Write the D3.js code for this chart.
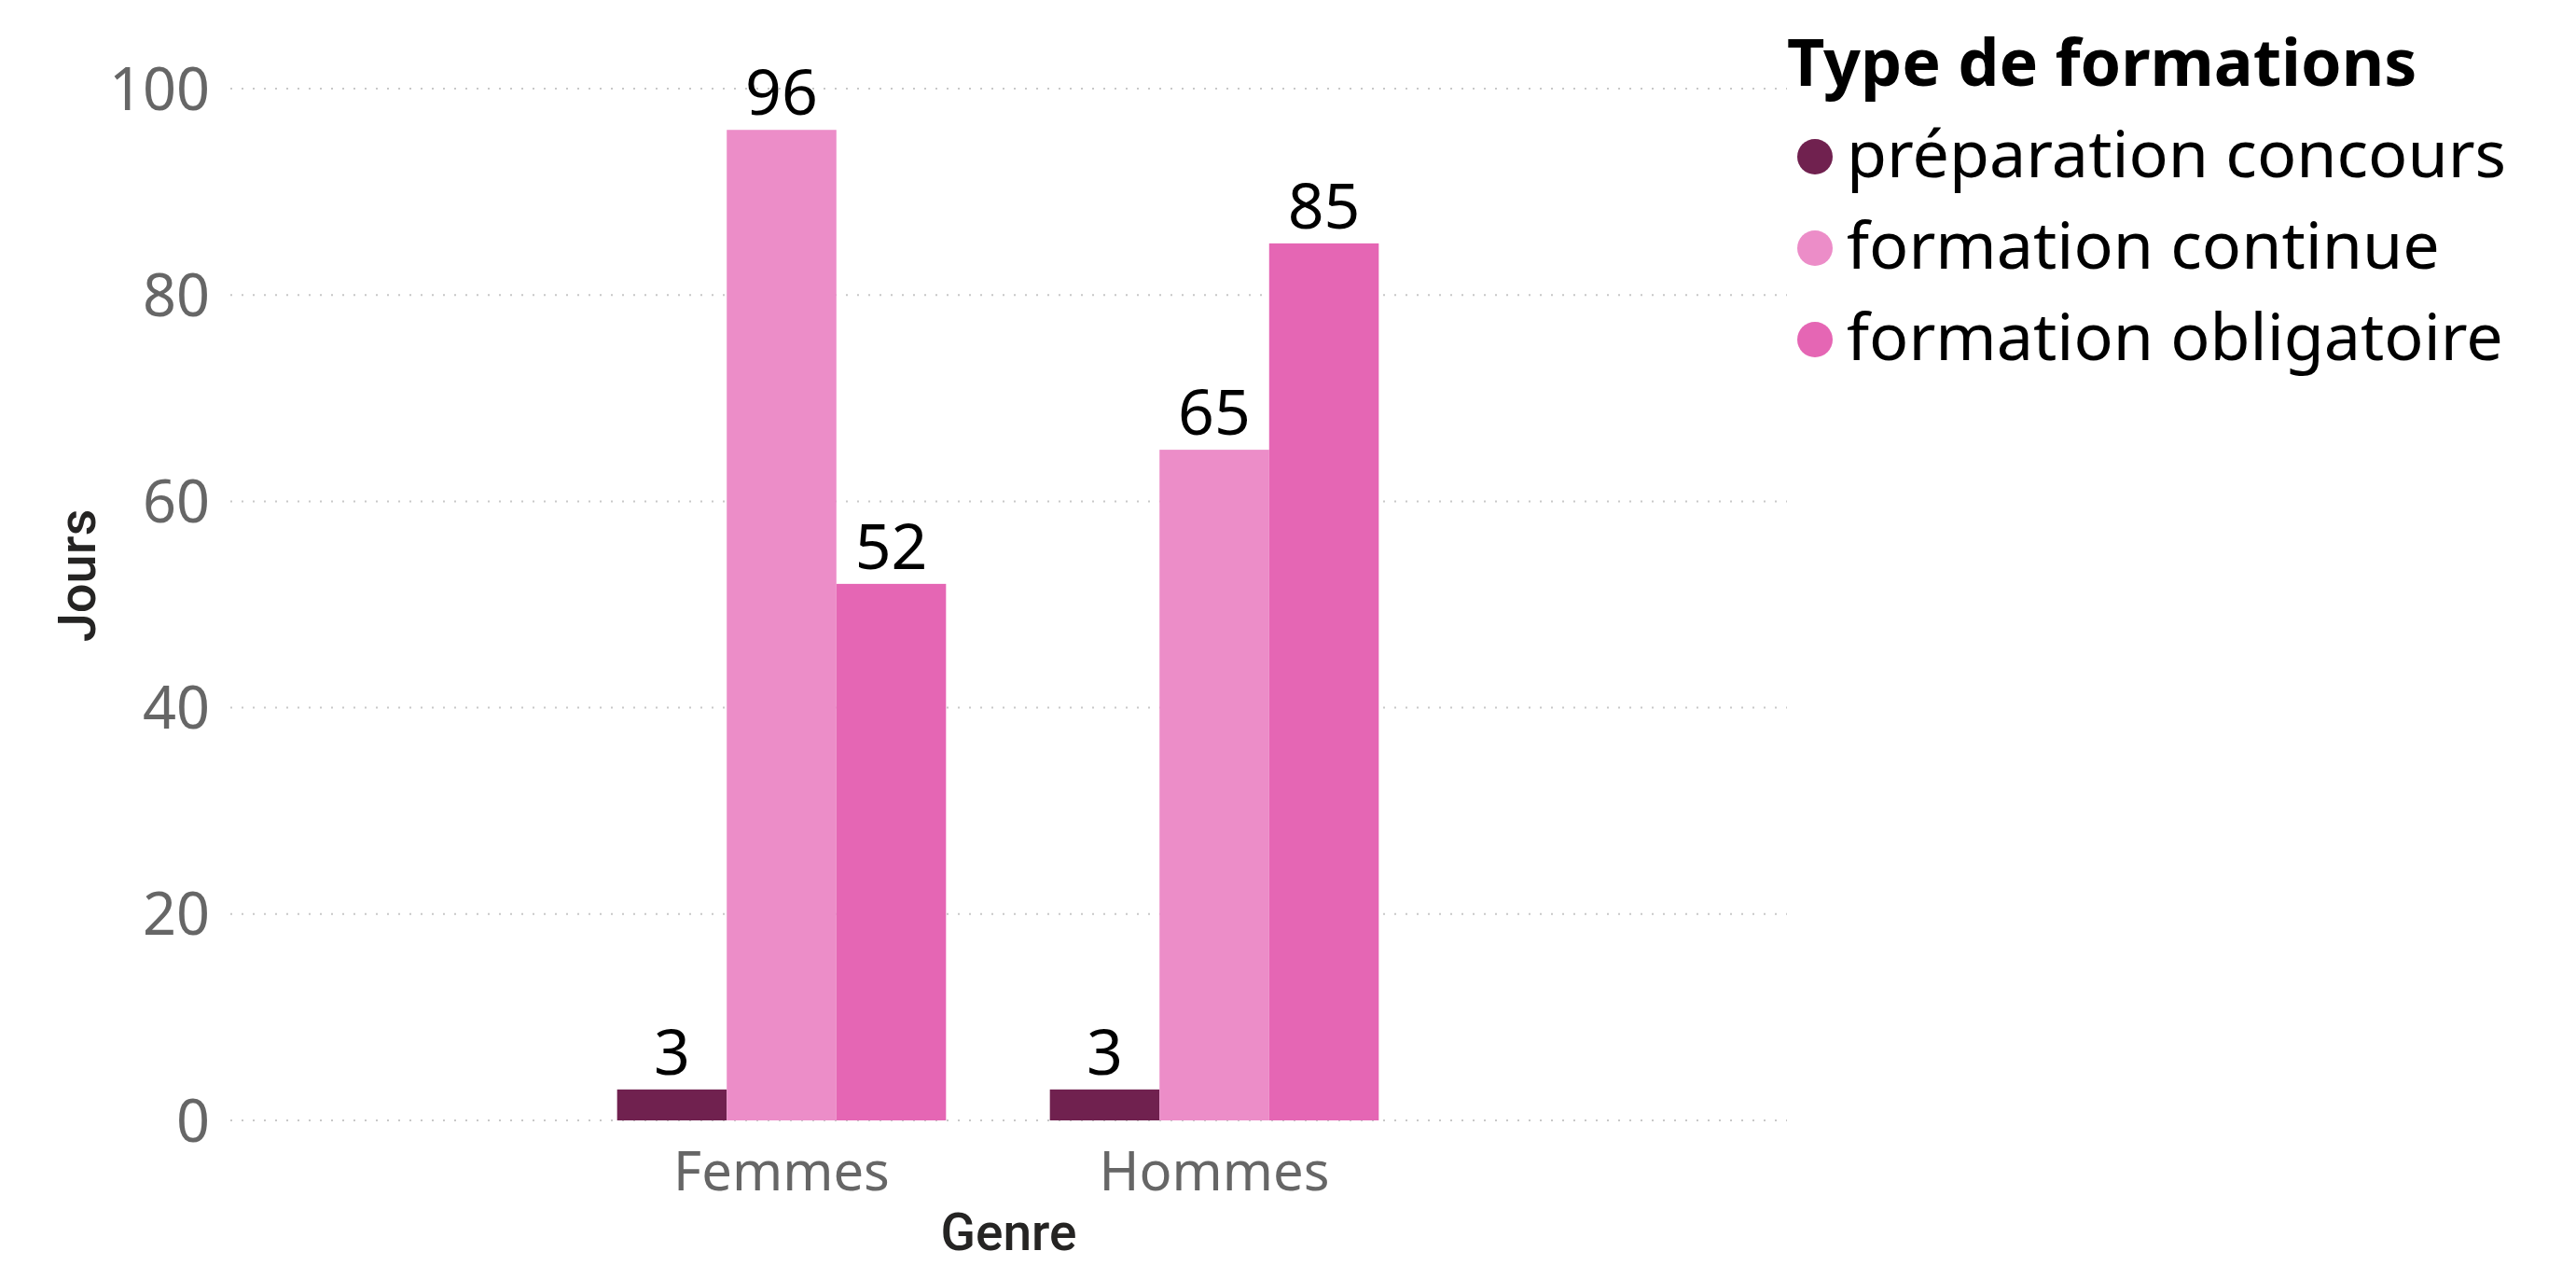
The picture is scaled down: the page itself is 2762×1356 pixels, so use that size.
<html>
  <head>
    <script src="https://cdn.jsdelivr.net/npm/d3@7"></script>
    <style>
      body { margin: 0; background: #fff; }
    </style>
  </head>
  <body>
    <script>
      const width = 2762, height = 1356;

      // data
      const genres = ["Femmes", "Hommes"];
      const types = ["préparation concours", "formation continue", "formation obligatoire"];
      const colors = ["#70214F", "#EC8DC8", "#E566B4"];
      const preparation = [3, 3];
      const continue_ = [96, 65];
      const obligatoire = [52, 85];
      const yTicks = [0, 20, 40, 60, 80, 100];

      const seriesValues = [preparation, continue_, obligatoire];
      const rows = [];
      genres.forEach((g, gi) => {
        types.forEach((t, ti) => rows.push({ genre: g, type: t, value: seriesValues[ti][gi] }));
      });

      const svg = d3.select("body").append("svg")
          .attr("width", width)
          .attr("height", height);

      const plotLeft = 247, plotRight = 1916;
      const font = "'Noto Sans', 'Open Sans', sans-serif";

      const y = d3.scaleLinear().domain([0, 100]).range([1201, 95]);

      const x0 = d3.scaleBand().domain(genres)
          .range([606, 1534])
          .paddingInner(0.24)
          .paddingOuter(0.12);
      const x1 = d3.scaleBand().domain(types).range([0, x0.bandwidth()]);
      const color = d3.scaleOrdinal().domain(types).range(colors);

      // gridlines
      svg.append("g").selectAll("line")
        .data(yTicks)
        .join("line")
          .attr("x1", plotLeft).attr("x2", plotRight)
          .attr("y1", d => y(d)).attr("y2", d => y(d))
          .attr("stroke", "#c8c8c8")
          .attr("stroke-width", 2)
          .attr("stroke-dasharray", "2,10");

      // y axis labels
      svg.append("g").selectAll("text")
        .data(yTicks)
        .join("text")
          .attr("x", 225)
          .attr("y", d => y(d))
          .attr("dy", "0.36em")
          .attr("text-anchor", "end")
          .style("font-family", font)
          .style("font-size", "63px")
          .style("fill", "#666666")
          .text(d => d);

      // bars
      svg.append("g").selectAll("rect")
        .data(rows)
        .join("rect")
          .attr("x", d => x0(d.genre) + x1(d.type))
          .attr("y", d => y(d.value))
          .attr("width", x1.bandwidth())
          .attr("height", d => y(0) - y(d.value))
          .attr("fill", d => color(d.type));

      // value labels
      svg.append("g").selectAll("text")
        .data(rows)
        .join("text")
          .attr("x", d => x0(d.genre) + x1(d.type) + x1.bandwidth() / 2)
          .attr("y", d => y(d.value) - 16)
          .attr("text-anchor", "middle")
          .style("font-family", font)
          .style("font-size", "68px")
          .style("fill", "#000")
          .text(d => d.value);

      // x axis labels
      svg.append("g").selectAll("text")
        .data(genres)
        .join("text")
          .attr("x", d => x0(d) + x0.bandwidth() / 2)
          .attr("y", 1276)
          .attr("text-anchor", "middle")
          .style("font-family", font)
          .style("font-size", "58px")
          .style("fill", "#666666")
          .text(d => d);

      // axis titles
      svg.append("text")
          .attr("x", (plotLeft + plotRight) / 2)
          .attr("y", 1340)
          .attr("text-anchor", "middle")
          .style("font-family", "Roboto, sans-serif")
          .style("font-weight", 500)
          .style("font-size", "55px")
          .style("fill", "#252423")
          .text("Genre");

      svg.append("text")
          .attr("transform", "translate(102,617) rotate(-90)")
          .attr("text-anchor", "middle")
          .style("font-family", "Roboto, sans-serif")
          .style("font-weight", 500)
          .style("font-size", "56px")
          .style("fill", "#252423")
          .text("Jours");

      // legend
      const legend = svg.append("g");
      legend.append("text")
          .attr("x", 1916)
          .attr("y", 92)
          .style("font-family", font)
          .style("font-weight", 700)
          .style("font-size", "70px")
          .style("fill", "#000")
          .text("Type de formations");

      const items = legend.selectAll("g.item")
        .data(types)
        .join("g")
          .attr("class", "item")
          .attr("transform", (d, i) => `translate(0,${190 + i * 98})`);
      items.append("circle")
          .attr("cx", 1946)
          .attr("cy", -22)
          .attr("r", 19)
          .attr("fill", d => color(d));
      items.append("text")
          .attr("x", 1980)
          .attr("y", 0)
          .style("font-family", font)
          .style("font-size", "70px")
          .style("fill", "#000")
          .text(d => d);
    </script>
  </body>
</html>
